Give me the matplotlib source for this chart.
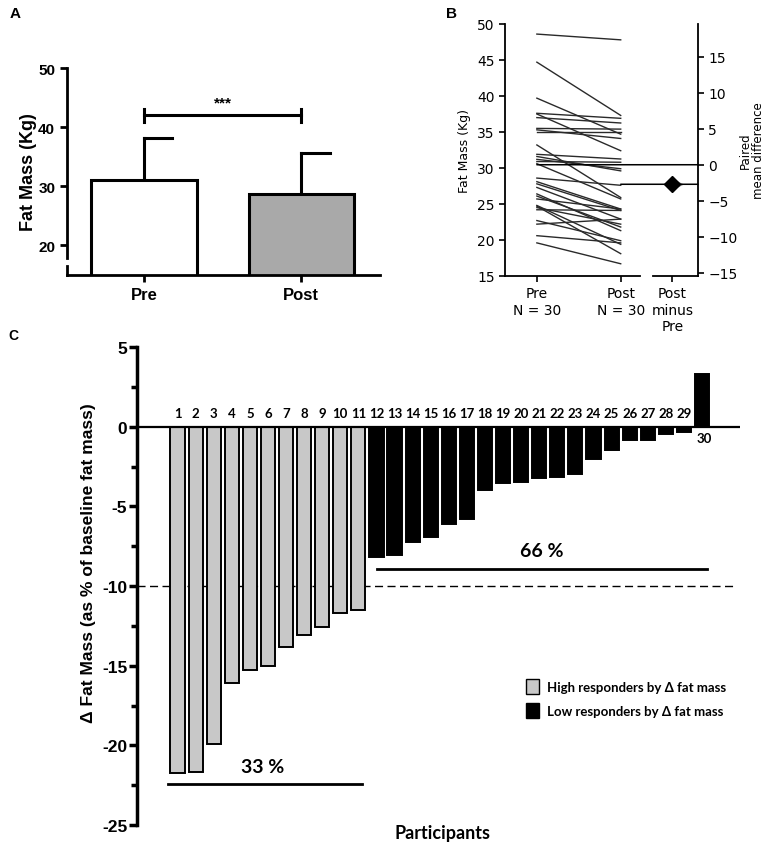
import numpy as np
import matplotlib
matplotlib.use('Agg')
import matplotlib.pyplot as plt
from matplotlib.patches import Patch, ConnectionPatch

# Panel A: group means and SD of fat mass (kg)
groups_a = ['Pre', 'Post']
mean_a = [31.0, 28.7]
sd_a = [7.1, 7.0]
fill_a = ['white', '#a9a9a9']

# Panel B: paired fat mass per participant (kg)
pre_b = [48.6, 44.7, 39.7, 37.6, 37.5, 37.0, 35.5, 35.3, 35.0, 33.2,
         31.9, 31.6, 31.2, 30.9, 30.6, 28.6, 28.1, 27.8, 27.3, 26.4,
         26.1, 25.7, 24.8, 24.5, 24.2, 22.7, 22.2, 20.6, 19.6, 24.7]
post_b = [47.8, 37.3, 34.7, 36.9, 32.4, 36.25, 35.4, 34.1, 35.0, 25.9,
          31.25, 29.6, 29.9, 30.8, 25.7, 27.6, 24.3, 24.1, 22.9, 21.3,
          21.8, 24.3, 19.4, 22.2, 24.1, 19.9, 22.9, 19.6, 16.7, 18.1]

# Panel C: change in fat mass, % of baseline, sorted
participants = list(range(1, 31))
delta_c = [-21.75, -21.7, -19.9, -16.1, -15.3, -15.0, -13.8, -13.1, -12.6, -11.7,
           -11.5, -8.2, -8.05, -7.25, -6.95, -6.1, -5.8, -3.95, -3.55, -3.5,
           -3.25, -3.15, -3.0, -2.0, -1.45, -0.85, -0.85, -0.45, -0.33, 3.3]
threshold = -10
yticks_c = [5, 0, -5, -10, -15, -20, -25]

W, H = 767, 845
fig = plt.figure(figsize=(W / 100, H / 100), dpi=100)

def box(l, t, r, b):
    return [l / W, 1 - b / H, (r - l) / W, (b - t) / H]

arial = 'Liberation Sans'
cal = ['Lato', 'DejaVu Sans']

# ---------------- A ----------------
axA = fig.add_axes(box(67, 69, 380, 276))
xa = np.arange(len(groups_a))
axA.bar(xa, mean_a, width=0.67, color=fill_a, edgecolor='black', linewidth=2.2, zorder=2)
for xi, m, s in zip(xa, mean_a, sd_a):
    axA.plot([xi, xi], [m, m + s], color='black', lw=2.2, zorder=1)
    axA.plot([xi, xi + 0.18], [m + s, m + s], color='black', lw=2.2)
axA.plot([0, 1], [42, 42], color='black', lw=2.2)
for xi in xa:
    axA.plot([xi, xi], [40.9, 43.1], color='black', lw=2.2)
axA.text(0.5, 44.2, '***', ha='center', va='center', fontsize=11, fontweight='bold', family=arial)
axA.set_ylim(15, 50)
axA.set_xlim(-0.49, 1.5)
axA.set_yticks([20, 30, 40, 50])
axA.set_xticks(xa)
axA.set_xticklabels(groups_a, fontsize=12, fontweight='bold', family=arial)
for lab in axA.get_yticklabels():
    lab.set_fontsize(11); lab.set_fontweight('bold'); lab.set_family(arial)
axA.set_ylabel('Fat Mass (Kg)', fontsize=13, fontweight='bold', family=arial, labelpad=1)
axA.spines[['top', 'right']].set_visible(False)
for sp in ['left', 'bottom']:
    axA.spines[sp].set_linewidth(2)
axA.spines['left'].set_bounds(17.8, 50)
axA.plot([0, 0], [15, 16.5], color='black', lw=2, transform=axA.get_yaxis_transform(), clip_on=False)
axA.tick_params(width=2, length=5)
fig.text(10 / W, 1 - 14 / H, 'A', fontsize=11, fontweight='bold', family=arial, va='center')

# ---------------- B ----------------
axB = fig.add_axes(box(505, 25, 640, 277))
for p, q in zip(pre_b, post_b):
    axB.plot([0, 1], [p, q], color='#2a2a2a', lw=1.0)
pre_mean = np.mean(pre_b)
post_mean = np.mean(post_b)
diff = post_mean - pre_mean
n = len(pre_b)
axB.set_ylim(15, 50)
axB.set_xlim(-0.38, 1.23)
axB.set_yticks(range(15, 51, 5))
axB.set_xticks([0, 1])
axB.set_xticklabels([f'Pre\nN = {n}', f'Post\nN = {n}'], fontsize=10)
axB.tick_params(labelsize=10, width=1.2, length=4)
axB.set_ylabel('Fat Mass (Kg)', fontsize=9)
axB.spines[['top', 'right']].set_visible(False)
for sp in ['left', 'bottom']:
    axB.spines[sp].set_linewidth(1.3)

axC = fig.add_axes(box(653, 25, 698, 277))
axC.set_xlim(-0.45, 0.6)
axC.set_ylim(15 - pre_mean, 50 - pre_mean)
axC.set_yticks(range(-15, 16, 5))
axC.set_xticks([0])
axC.set_xticklabels(['Post\nminus\nPre'], fontsize=10)
axC.yaxis.tick_right()
axC.yaxis.set_label_position('right')
axC.tick_params(labelsize=10, width=1.2, length=4)
axC.set_ylabel('Paired\nmean difference', fontsize=8.5, labelpad=1, linespacing=1.0)
axC.spines[['top', 'left']].set_visible(False)
for sp in ['right', 'bottom']:
    axC.spines[sp].set_linewidth(1.3)
axC.plot([0.12], [diff], marker='>', color='#8a8a8a', ms=7, zorder=2)
axC.plot([0, 0], [diff - 0.8, diff + 0.8], color='black', lw=2, zorder=3)
axC.plot([0], [diff], marker='D', color='black', ms=8, zorder=4)
for ya, yb in [((0, pre_mean), 0), ((1, post_mean), diff)]:
    con = ConnectionPatch(xyA=ya, coordsA=axB.transData, xyB=(1, yb),
                          coordsB=axC.get_yaxis_transform(), color='black', lw=1.1)
    fig.add_artist(con)
fig.text(446 / W, 1 - 14 / H, 'B', fontsize=11, fontweight='bold', family=arial, va='center')

# ---------------- C ----------------
axD = fig.add_axes(box(137, 348, 740, 826))
colors = ['#c8c8c8' if v < threshold else 'black' for v in delta_c]
axD.bar(participants, delta_c, width=0.78, color=colors, edgecolor='black', linewidth=1.4, zorder=2)
axD.axhline(0, color='black', lw=1.6, zorder=3)
axD.set_xlim(-1.24, 32.1)
axD.axhline(threshold, xmax=0.988, color='black', lw=1, ls=(0, (5.8, 3.2)), zorder=1)
for p, v in zip(participants, delta_c):
    if v < 0:
        axD.text(p, 0.45, str(p), ha='center', va='bottom', fontsize=9.5, fontweight='bold', family=cal)
    else:
        axD.text(p + 0.1, -0.35, str(p), ha='center', va='top', fontsize=9.5, fontweight='bold', family=cal)
axD.plot([0.47, 11.2], [-22.4, -22.4], color='black', lw=2)
axD.text(5.73, -21.3, '33 %', ha='center', va='center', fontsize=14, fontweight='bold', family=cal)
axD.plot([12.03, 30.3], [-8.95, -8.95], color='black', lw=2)
axD.text(21.16, -7.8, '66 %', ha='center', va='center', fontsize=14, fontweight='bold', family=cal)
axD.set_ylim(-25, 5)
axD.set_yticks(yticks_c)
axD.set_yticklabels([f'{v:g}' for v in yticks_c], fontsize=12.5, fontweight='bold', family=arial)
axD.set_yticks(np.array(yticks_c[:-1]) - 2.5, minor=True)
axD.set_xticks([])
axD.spines[['top', 'right', 'bottom']].set_visible(False)
axD.spines['left'].set_linewidth(2.5)
axD.tick_params(axis='y', which='major', width=2.5, length=6, pad=1)
axD.tick_params(axis='y', which='minor', width=2.5, length=4)
axD.text(-0.081, 0.55, 'Δ Fat Mass (as % of baseline fat mass)', rotation=90, transform=axD.transAxes,
         ha='center', va='center', fontsize=12.5, fontweight='bold', family=[arial, 'DejaVu Sans'])
axD.text(0.507, -0.015, 'Participants', transform=axD.transAxes, ha='center', va='center',
         fontsize=13, fontweight='bold', family=cal)
handles = [Patch(facecolor='#c8c8c8', edgecolor='black', linewidth=1),
           Patch(facecolor='black', edgecolor='black')]
axD.legend(handles, ['High responders by Δ fat mass', 'Low responders by Δ fat mass'],
           loc='upper left', bbox_to_anchor=(0.645, 0.305), frameon=False, borderaxespad=0,
           borderpad=0, handlelength=1.0, handleheight=1.3, handletextpad=0.6, labelspacing=0.75,
           prop={'family': cal, 'weight': 'bold', 'size': 9.5})
fig.text(8 / W, 1 - 336 / H, 'C', fontsize=10, fontweight='bold', family=arial, va='center')

fig.savefig('out.png', dpi=100)
